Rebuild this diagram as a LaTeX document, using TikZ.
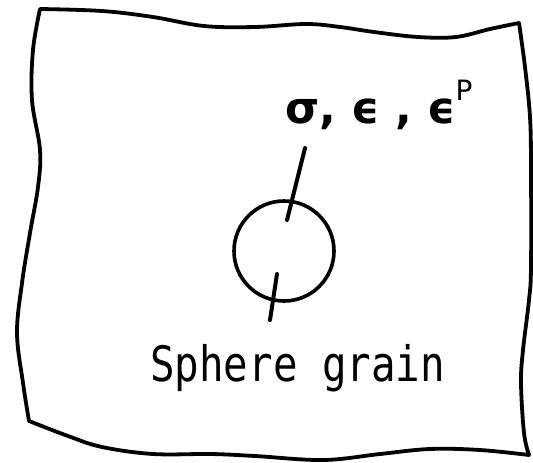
\documentclass[tikz,border=0pt]{standalone}
\usepackage{fontspec}
\newfontfamily\symfont{DejaVu Sans}
\newfontfamily\monofont{DejaVu Sans Mono}
\begin{document}
\begin{tikzpicture}[x=1pt,y=-1pt,
  outline/.style={line width=3.8pt,line join=round,line cap=round},
  leader/.style={line width=4pt,line cap=round},
  grainstyle/.style={circle,draw,line width=3.6pt,minimum size=100pt,inner sep=0pt}]
\useasboundingbox (0,0) rectangle (533,463);
% wavy sheet outline
\draw[outline]
  plot[smooth,tension=0.6] coordinates {(40,9) (102,11) (153,17) (204,26) (255,27) (306,24) (340,27) (374,32) (418,37) (456,37) (490,29) (519,23)}
  -- plot[smooth,tension=0.6] coordinates {(519,23) (525,67) (530,117) (531,167) (531,267) (529,300) (523,350) (521,383) (524,433) (529,455)}
  -- plot[smooth,tension=0.6] coordinates {(529,455) (480,450) (430,449) (380,454) (323,460) (255,456) (211,454) (153,454) (102,447) (68,436) (29,421)}
  -- plot[smooth,tension=0.6] coordinates {(29,421) (23,383) (17,333) (22,283) (30,233) (38,187) (40,150) (32,100) (33,50) (40,9)}
  -- cycle;
% grain
\node[grainstyle] (grain) at (284,251) {};
% labels
\node[anchor=base west,inner sep=0pt] (vars) at (285,123)
  {\symfont\fontsize{44}{44}\selectfont\bfseries σ, ϵ , ϵ\raisebox{23pt}{\mdseries\fontsize{28}{28}\selectfont P}};
\node[anchor=base west,inner sep=0pt] (name) at (150,381)
  {\scalebox{1.02}[1.22]{\monofont\fontsize{40}{40}\selectfont Sphere grain}};
% leaders
\coordinate (upin) at (287,220);
\coordinate (upout) at (305,148);
\coordinate (lowin) at (277,274);
\coordinate (lowout) at (270,320);
\draw[leader] (upout) -- (upin);
\draw[leader] (lowin) -- (lowout);
\end{tikzpicture}
\end{document}
